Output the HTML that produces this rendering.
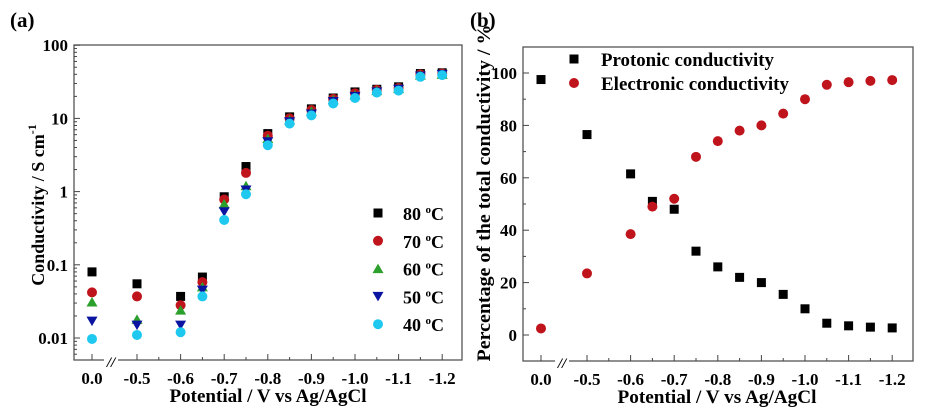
<!DOCTYPE html><html><head><meta charset="utf-8"><style>body{margin:0;background:#fff}svg{display:block;font-family:"Liberation Serif",serif;font-weight:bold}</style></head><body>
<svg id="s" width="939" height="412" xmlns="http://www.w3.org/2000/svg"></svg>
<script>
const s=document.getElementById('s');let h='';
const xs=['0.0','-0.5','-0.6','-0.7','-0.8','-0.9','-1.0','-1.1','-1.2'];
const pv=[0,-0.5,-0.6,-0.65,-0.7,-0.75,-0.8,-0.85,-0.9,-0.95,-1.0,-1.05,-1.1,-1.15,-1.2];
function px(v,x0,x5,sp){return v==0?x0:x5+(-v-0.5)*10*sp;}
function mk(t,x,y,c){if(t=='s')return `<rect x="${x-4.5}" y="${y-4.5}" width="9" height="9" fill="${c}"/>`;
if(t=='c')return `<circle cx="${x}" cy="${y}" r="5" fill="${c}"/>`;
if(t=='u')return `<path d="M${x-5.5},${y+4.5}L${x+5.5},${y+4.5}L${x},${y-5}Z" fill="${c}"/>`;
return `<path d="M${x-5.5},${y-4.5}L${x+5.5},${y-4.5}L${x},${y+5}Z" fill="${c}"/>`;}
// panel a
let L=74,R=462,T=45,B=360;
h+=`<text x="10" y="27" font-size="21">(a)</text>`;
h+=`<rect x="${L}" y="${T}" width="${R-L}" height="${B-T}" fill="none" stroke="#555" stroke-width="1.3"/>`;
const ya=v=>338-(Math.log10(v)+2)*73.2;
[[100,'100'],[10,'10'],[1,'1'],[0.1,'0.1'],[0.01,'0.01']].forEach(([v,l])=>{let y=ya(v);h+=`<line x1="${L}" x2="${L+6}" y1="${y}" y2="${y}" stroke="#444"/><text x="${L-6}" y="${y+6}" font-size="17" text-anchor="end">${l}</text>`;});
for(let d=-3;d<2;d++)for(let k=2;k<10;k++){let y=ya(k*Math.pow(10,d));if(y>T&&y<B)h+=`<line x1="${L}" x2="${L+3}" y1="${y}" y2="${y}" stroke="#444"/>`;}
xs.forEach((l,i)=>{let v=-parseFloat(l.replace('-',''));let x=px(i==0?0:v,92,137,43.6);h+=`<line x1="${x}" x2="${x}" y1="${B}" y2="${B-6}" stroke="#444"/><text x="${x}" y="${B+24}" font-size="17" text-anchor="middle">${l}</text>`;});
for(let i=0;i<7;i++){let x=158.8+43.6*i;h+=`<line x1="${x}" x2="${x}" y1="${B}" y2="${B-3}" stroke="#444"/>`;}
h+=`<rect x="104" y="${B-4}" width="14" height="8" fill="#fff"/><text x="111" y="${B+7}" font-size="15" text-anchor="middle" font-style="italic">//</text>`;
h+=`<text x="268" y="${B+42}" font-size="19" text-anchor="middle" textLength="197" lengthAdjust="spacingAndGlyphs">Potential / V vs Ag/AgCl</text>`;
h+=`<text transform="translate(44,205) rotate(-90)" font-size="18" text-anchor="middle">Conductivity / S cm<tspan dy="-8" font-size="12">-1</tspan></text>`;
const da=[[0.08,0.042,0.031,0.017,0.0097],[0.055,0.037,0.018,0.015,0.011],[0.037,0.028,0.024,0.015,0.012],[0.068,0.058,0.05,0.045,0.037],[0.85,0.78,0.68,0.53,0.41],[2.2,1.8,1.2,1.05,0.92],[6.2,5.8,5.3,4.8,4.3],[10.5,10,9.5,9,8.5],[13.5,13,12.5,11.5,11],[19,18.5,18,17,16],[23,22,21,20,19],[25,24.5,24,23,22.5],[27,26,25.5,25,24],[41,40,39,38,37],[42,41,40,40,39]];
const sty=[['s','#000'],['c','#c0141c'],['u','#2ca02c'],['d','#0a14a0'],['c','#1ec8ee']];
for(let k=0;k<5;k++)pv.forEach((v,i)=>{h+=mk(sty[k][0],px(v,92,137,43.6),ya(da[i][k]),sty[k][1]);});
['80','70','60','50','40'].forEach((t,k)=>{let y=213+k*27.8;h+=mk(sty[k][0],378,y,sty[k][1])+`<text x="403" y="${y+7}" font-size="18">${t} <tspan dy="-7" font-size="11">o</tspan><tspan dy="7">C</tspan></text>`;});
// panel b
L=523;R=913;T=47;B=361;
h+=`<text x="470" y="27" font-size="21">(b)</text>`;
h+=`<rect x="${L}" y="${T}" width="${R-L}" height="${B-T}" fill="none" stroke="#555" stroke-width="1.3"/>`;
const yb=v=>335-v*2.62;
for(let v=-10;v<=110;v+=10){let y=yb(v);if(y<=T||y>=B)continue;let maj=v%20==0&&v>=0&&v<=100;h+=`<line x1="${L}" x2="${L+(maj?6:3)}" y1="${y}" y2="${y}" stroke="#444"/>`;if(maj)h+=`<text x="${L-6}" y="${y+6}" font-size="17" text-anchor="end">${v}</text>`;}
xs.forEach((l,i)=>{let v=-parseFloat(l.replace('-',''));let x=px(i==0?0:v,541,587,43.6);h+=`<line x1="${x}" x2="${x}" y1="${B}" y2="${B-6}" stroke="#444"/><text x="${x}" y="${B+24}" font-size="17" text-anchor="middle">${l}</text>`;});
for(let i=0;i<7;i++){let x=608.8+43.6*i;h+=`<line x1="${x}" x2="${x}" y1="${B}" y2="${B-3}" stroke="#444"/>`;}
h+=`<rect x="555" y="${B-4}" width="14" height="8" fill="#fff"/><text x="562" y="${B+7}" font-size="15" text-anchor="middle" font-style="italic">//</text>`;
h+=`<text x="717" y="${B+42}" font-size="19" text-anchor="middle" textLength="199" lengthAdjust="spacingAndGlyphs">Potential / V vs Ag/AgCl</text>`;
h+=`<text transform="translate(490,193) rotate(-90)" font-size="19" text-anchor="middle" textLength="337" lengthAdjust="spacingAndGlyphs">Percentage of the total conductivity / %</text>`;
const pr=[97.5,76.5,61.5,51,48,32,26,22,20,15.5,10,4.5,3.5,3,2.7],el=[2.5,23.5,38.5,49,52,68,74,78,80,84.5,90,95.5,96.5,97,97.3];
pv.forEach((v,i)=>{let x=px(v,541,587,43.6);h+=mk('s',x,yb(pr[i]),'#000')+mk('c',x,yb(el[i]),'#c0141c');});
h+=mk('s',574,59,'#000')+`<text x="601" y="66" font-size="19" textLength="173" lengthAdjust="spacingAndGlyphs">Protonic conductivity</text>`;
h+=mk('c',574,83,'#c0141c')+`<text x="601" y="90" font-size="19" textLength="188" lengthAdjust="spacingAndGlyphs">Electronic conductivity</text>`;
s.innerHTML=h;
</script></body></html>
